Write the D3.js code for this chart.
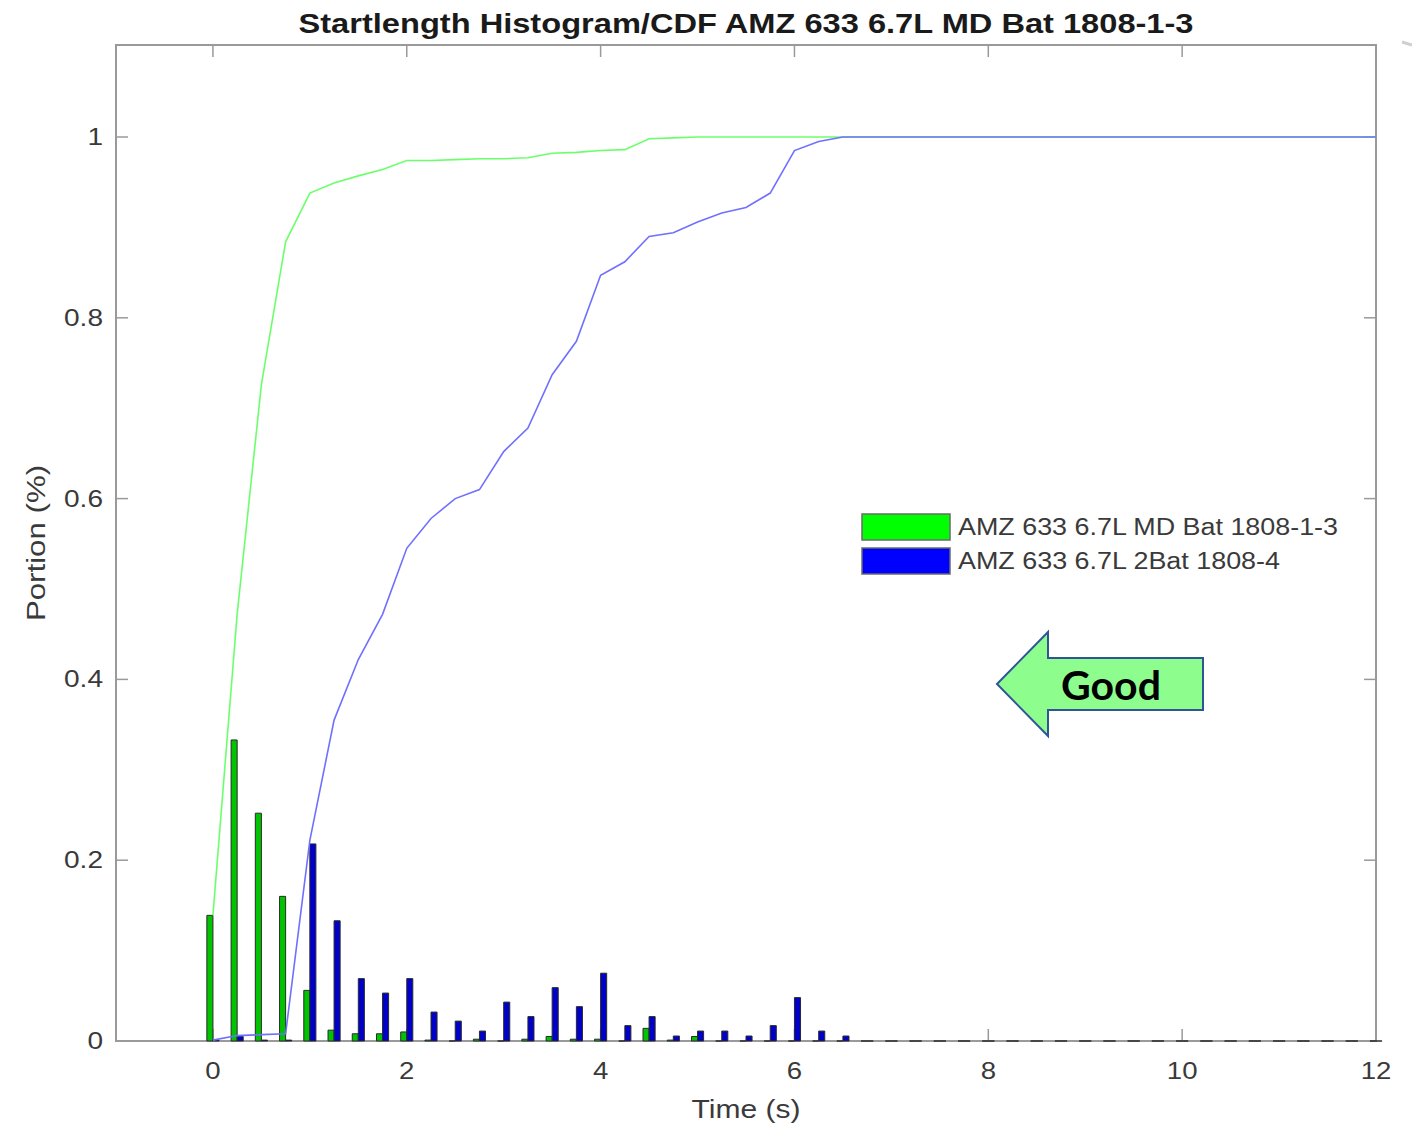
<!DOCTYPE html>
<html>
<head>
<meta charset="utf-8">
<script src="https://cdn.jsdelivr.net/npm/d3@7"></script>
<style>
  html, body { margin: 0; padding: 0; background: #fff; }
  svg { display: block; }
</style>
</head>
<body>
<svg id="chart" width="1412" height="1126"></svg>
<script>
// ---------- data ----------
const title = "Startlength Histogram/CDF AMZ 633 6.7L MD Bat 1808-1-3";
const seriesNames = ["AMZ 633 6.7L MD Bat 1808-1-3", "AMZ 633 6.7L 2Bat 1808-4"];
const binCenters = [0, 0.25, 0.5, 0.75, 1, 1.25, 1.5, 1.75, 2, 2.25, 2.5, 2.75, 3, 3.25, 3.5, 3.75,
  4, 4.25, 4.5, 4.75, 5, 5.25, 5.5, 5.75, 6, 6.25, 6.5, 6.75, 7, 7.25, 7.5, 7.75,
  8, 8.25, 8.5, 8.75, 9, 9.25, 9.5, 9.75, 10, 10.25, 10.5, 10.75, 11, 11.25, 11.5, 11.75, 12];
const histMD = [0.139, 0.333, 0.252, 0.160, 0.056, 0.012, 0.008, 0.008, 0.010, 0.001, 0, 0.002, 0, 0.002, 0.005, 0.002,
  0.002, 0, 0.014, 0.001, 0.005, 0, 0, 0, 0, 0, 0, 0, 0, 0, 0, 0,
  0, 0, 0, 0, 0, 0, 0, 0, 0, 0, 0, 0, 0, 0, 0, 0, 0];
const hist2Bat = [0.001, 0.005, 0.001, 0.001, 0.218, 0.133, 0.069, 0.053, 0.069, 0.032, 0.022, 0.011, 0.043, 0.027, 0.059, 0.038,
  0.075, 0.017, 0.027, 0.0055, 0.011, 0.011, 0.0055, 0.017, 0.048, 0.011, 0.0055, 0, 0, 0, 0, 0,
  0, 0, 0, 0, 0, 0, 0, 0, 0, 0, 0, 0, 0, 0, 0, 0, 0];
const cdfMD = [0.139, 0.472, 0.726, 0.884, 0.938, 0.949, 0.957, 0.964, 0.974, 0.974, 0.975, 0.976, 0.976, 0.977, 0.982, 0.983,
  0.985, 0.986, 0.998, 0.999, 1, 1, 1, 1, 1, 1, 1, 1, 1, 1, 1, 1,
  1, 1, 1, 1, 1, 1, 1, 1, 1, 1, 1, 1, 1, 1, 1, 1, 1];
const cdf2Bat = [0.001, 0.006, 0.007, 0.008, 0.222, 0.355, 0.422, 0.472, 0.545, 0.578, 0.600, 0.610, 0.652, 0.678, 0.737, 0.774,
  0.847, 0.862, 0.890, 0.894, 0.906, 0.916, 0.922, 0.938, 0.985, 0.995, 1, 1, 1, 1, 1, 1,
  1, 1, 1, 1, 1, 1, 1, 1, 1, 1, 1, 1, 1, 1, 1, 1, 1];
const xTicks = [0, 2, 4, 6, 8, 10, 12];
const yTicks = [0, 0.2, 0.4, 0.6, 0.8, 1];
const xLabel = "Time (s)";
const yLabel = "Portion (%)";
const annotation = "Good";

// ---------- layout ----------
const svg = d3.select("#chart");
const L = 116, R = 1376, T = 45, B = 1041;
const x = d3.scaleLinear().domain([-1, 12]).range([L, R]);
const y = d3.scaleLinear().domain([0, 1.1]).range([B, B - 1.1 * 904]);
const barW = 0.0625;
const font = "'Liberation Sans', Arial, Helvetica, sans-serif";
const axisColor = "#9a9a9a";
const textColor = "#3a3a3a";

// horizontally stretched text helper (reference glyphs are wide)
function wideText(g, tx, ty, str, size, sx, anchor, rot) {
  const tr = `translate(${tx},${ty})` + (rot ? ` rotate(${rot})` : "") + ` scale(${sx},1)`;
  return g.append("text").attr("transform", tr).attr("text-anchor", anchor || "start")
    .attr("font-family", font).attr("font-size", size).attr("fill", textColor).text(str);
}

// ---------- axes box & ticks ----------
const gAx = svg.append("g");
gAx.append("rect").attr("x", L).attr("y", T).attr("width", R - L).attr("height", B - T)
  .attr("fill", "none").attr("stroke", axisColor).attr("stroke-width", 2);
const tk = 12;
xTicks.forEach(t => {
  gAx.append("line").attr("x1", x(t)).attr("x2", x(t)).attr("y1", B).attr("y2", B - tk)
    .attr("stroke", axisColor).attr("stroke-width", 1.5);
  gAx.append("line").attr("x1", x(t)).attr("x2", x(t)).attr("y1", T).attr("y2", T + tk)
    .attr("stroke", axisColor).attr("stroke-width", 1.5);
  wideText(gAx, x(t), 1079, t, 23, 1.2, "middle");
});
yTicks.forEach(t => {
  gAx.append("line").attr("x1", L).attr("x2", L + tk).attr("y1", y(t)).attr("y2", y(t))
    .attr("stroke", axisColor).attr("stroke-width", 1.5);
  gAx.append("line").attr("x1", R).attr("x2", R - tk).attr("y1", y(t)).attr("y2", y(t))
    .attr("stroke", axisColor).attr("stroke-width", 1.5);
  wideText(gAx, 103, y(t) + 8, t, 23, 1.22, "end");
});

// ---------- bars ----------
function barPath(x0, x1, v) {
  const y0 = y(0), y1 = y(v);
  return `M${x0},${y0}V${y1}H${x1}V${y0}Z`;
}
const gBars = svg.append("g");
gBars.selectAll("path.md").data(binCenters).join("path")
  .attr("class", "md")
  .attr("d", (c, i) => barPath(x(c - barW), x(c), histMD[i]))
  .attr("fill", "#00c400").attr("stroke", "#2a2a2a").attr("stroke-width", 1);
gBars.selectAll("path.bt").data(binCenters).join("path")
  .attr("class", "bt")
  .attr("d", (c, i) => barPath(x(c), x(c + barW), hist2Bat[i]))
  .attr("fill", "#0000c8").attr("stroke", "#2a2a2a").attr("stroke-width", 1);

// ---------- CDF lines ----------
const line = d3.line().x(d => x(d[0])).y(d => y(d[1]));
svg.append("path")
  .attr("d", line(binCenters.map((c, i) => [c, cdfMD[i]])))
  .attr("fill", "none").attr("stroke", "#6cff6c").attr("stroke-width", 1.6);
svg.append("path")
  .attr("d", line(binCenters.map((c, i) => [c, cdf2Bat[i]])))
  .attr("fill", "none").attr("stroke", "#7070ff").attr("stroke-width", 1.6);

// axis labels
wideText(svg, (L + R) / 2, 1118, xLabel, 25, 1.2, "middle");
wideText(svg, 45, (T + B) / 2, yLabel, 25, 1.25, "middle", -90);

// title
svg.append("text").attr("x", (L + R) / 2).attr("y", 33).attr("text-anchor", "middle")
  .attr("font-family", font).attr("font-size", 27).attr("font-weight", "bold")
  .attr("fill", "#1a1a1a").attr("textLength", 895).attr("lengthAdjust", "spacingAndGlyphs")
  .text(title);

// ---------- legend ----------
const legColors = ["#00ff00", "#0000ff"];
const legWidths = [380, 322];
const gLeg = svg.append("g");
seriesNames.forEach((n, i) => {
  const yy = 514 + i * 34;
  gLeg.append("rect").attr("x", 862).attr("y", yy).attr("width", 88).attr("height", 26)
    .attr("fill", legColors[i]).attr("stroke", "#6a6a6a").attr("stroke-width", 1.5);
  gLeg.append("text").attr("x", 958).attr("y", yy + 21)
    .attr("font-family", font).attr("font-size", 23).attr("fill", textColor)
    .attr("textLength", legWidths[i]).attr("lengthAdjust", "spacingAndGlyphs").text(n);
});

// ---------- "Good" arrow ----------
const arrowPts = [[997, 684], [1048, 632], [1048, 658], [1203, 658], [1203, 710], [1048, 710], [1048, 736]];
svg.append("polygon").attr("points", arrowPts.map(p => p.join(",")).join(" "))
  .attr("fill", "#8dfd8d").attr("stroke", "#2f5597").attr("stroke-width", 2);
svg.append("text").attr("x", 1111).attr("y", 700).attr("text-anchor", "middle")
  .attr("font-family", "Lato, 'Open Sans', sans-serif").attr("font-weight", "bold")
  .attr("font-size", 41).attr("fill", "#000").text(annotation);

// small artifact stroke at top-right corner
svg.append("line").attr("x1", 1402).attr("y1", 42).attr("x2", 1412).attr("y2", 45)
  .attr("stroke", "#cfcfcf").attr("stroke-width", 3);
</script>
</body>
</html>
